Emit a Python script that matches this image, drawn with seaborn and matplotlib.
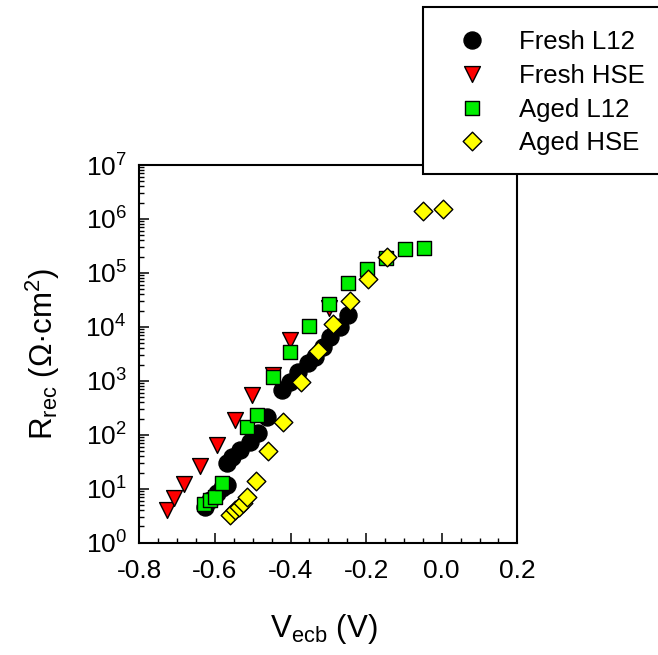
import numpy as np
import pandas as pd
import matplotlib
matplotlib.use("Agg")
import matplotlib.pyplot as plt
import matplotlib.ticker as mticker
from matplotlib.patches import Rectangle
import seaborn as sns

# ---- data ----
fresh_l12_x = [-0.626, -0.613, -0.595, -0.580, -0.569, -0.569, -0.556, -0.534, -0.507, -0.485,
               -0.463, -0.423, -0.401, -0.379, -0.353, -0.335, -0.313, -0.295, -0.269, -0.247]
fresh_l12_y = [4.5, 6.2, 8.5, 10.5, 11.7, 30, 39, 52, 72, 108,
               215, 680, 960, 1480, 2100, 2800, 4300, 6600, 10000, 16500]

fresh_hse_x = [-0.726, -0.708, -0.681, -0.639, -0.595, -0.547, -0.503, -0.445, -0.401, -0.297]
fresh_hse_y = [4.0, 6.6, 12.5, 26, 65, 190, 550, 1300, 5700, 22000]

aged_l12_x = [-0.629, -0.612, -0.600, -0.582, -0.516, -0.489, -0.447, -0.401, -0.350,
              -0.297, -0.249, -0.198, -0.147, -0.097, -0.047]
aged_l12_y = [5.3, 6.3, 7.1, 12.9, 138, 233, 1190, 3470, 10400,
              27000, 64000, 120000, 185000, 277000, 286000]

aged_hse_x = [-0.560, -0.547, -0.535, -0.525, -0.514, -0.491, -0.459, -0.419, -0.372,
              -0.326, -0.287, -0.242, -0.195, -0.146, -0.049, 0.003]
aged_hse_y = [3.26, 4.0, 4.65, 5.4, 7.1, 14, 51, 175, 950,
              3500, 11300, 30000, 77000, 197000, 1.4e6, 1.5e6]

series_names = ["Fresh L12", "Fresh HSE", "Aged L12", "Aged HSE"]
x_ticks = [-0.8, -0.6, -0.4, -0.2, 0.0, 0.2]

# ---- style ----
sns.set_theme(style="ticks")
plt.rcParams["font.family"] = ["Liberation Sans", "DejaVu Sans"]
plt.rcParams["mathtext.fontset"] = "custom"
plt.rcParams["mathtext.rm"] = "Liberation Sans"
plt.rcParams["mathtext.it"] = "Liberation Sans:italic"
plt.rcParams["mathtext.bf"] = "Liberation Sans:bold"
plt.rcParams["axes.unicode_minus"] = False
plt.rcParams["text.color"] = "black"
plt.rcParams["axes.labelcolor"] = "black"
plt.rcParams["xtick.color"] = "black"
plt.rcParams["ytick.color"] = "black"

fig = plt.figure(figsize=(6.58, 6.55), dpi=100)
W, H = 658, 655
ax = fig.add_axes([139.3 / W, 1 - 542.7 / H, 378 / W, 377.7 / H])

styles = [
    (fresh_l12_x, fresh_l12_y, "o", "black", 150),
    (fresh_hse_x, fresh_hse_y, "v", "#FF0000", 130),
    (aged_l12_x, aged_l12_y, "s", "#00EE00", 100),
    (aged_hse_x, aged_hse_y, "D", "#FFFF00", 90),
]
for (xs, ys, mk, col, sz), name in zip(styles, series_names):
    df = pd.DataFrame({"V": xs, "R": ys})
    sns.scatterplot(data=df, x="V", y="R", ax=ax, marker=mk, color=col, s=sz,
                    edgecolor="black", linewidth=1.0, label=name, legend=False)

ax.set_yscale("log")
ax.set_xlim(-0.8, 0.2)
ax.set_ylim(1, 1e7)

ax.xaxis.set_major_locator(mticker.FixedLocator(x_ticks))
ax.xaxis.set_major_formatter(mticker.FormatStrFormatter("%.1f"))
ax.xaxis.set_minor_locator(mticker.MultipleLocator(0.05))
ax.yaxis.set_major_locator(mticker.LogLocator(base=10, numticks=20))
ax.yaxis.set_minor_locator(mticker.LogLocator(base=10, subs=np.arange(2, 10), numticks=200))
ax.yaxis.set_minor_formatter(mticker.NullFormatter())

ax.tick_params(which="both", direction="in", top=False, right=False, colors="black")
ax.tick_params(axis="x", which="major", length=7, width=1.1, labelsize=19, pad=12)
ax.tick_params(axis="y", which="major", length=7, width=1.1, labelsize=19, pad=9)
ax.tick_params(which="minor", length=3.3, width=1.0)
for sp in ax.spines.values():
    sp.set_linewidth(1.5)
    sp.set_color("black")
    sp.set_visible(True)

ax.set_xlabel("V$_{\\mathrm{ecb}}$ (V)", fontsize=22.5, color="black")
ax.set_ylabel("R$_{\\mathrm{rec}}$ (Ω·cm$^{2}$)", fontsize=22.5, color="black")
ax.xaxis.set_label_coords(0.489, -0.1835)
ax.yaxis.set_label_coords(-0.205, 0.5)

# legend box
rect = Rectangle((423.3 / W, 1 - 174.3 / H), (680 - 423.3) / W, (174.3 - 7.3) / H,
                 transform=fig.transFigure, facecolor="white", edgecolor="black",
                 linewidth=1.5, zorder=4, clip_on=False)
fig.add_artist(rect)
handles, labels = ax.get_legend_handles_labels()
leg = fig.legend(handles, labels, loc="upper left", bbox_to_anchor=(449 / W, 1 - 30 / H),
                 frameon=False, borderpad=0, borderaxespad=0, handlelength=1.8,
                 handletextpad=0.92, labelspacing=0.38, fontsize=18.5,
                 scatteryoffsets=[0.5])
for t in leg.get_texts():
    t.set_color("black")

fig.savefig("out.png", dpi=100)
